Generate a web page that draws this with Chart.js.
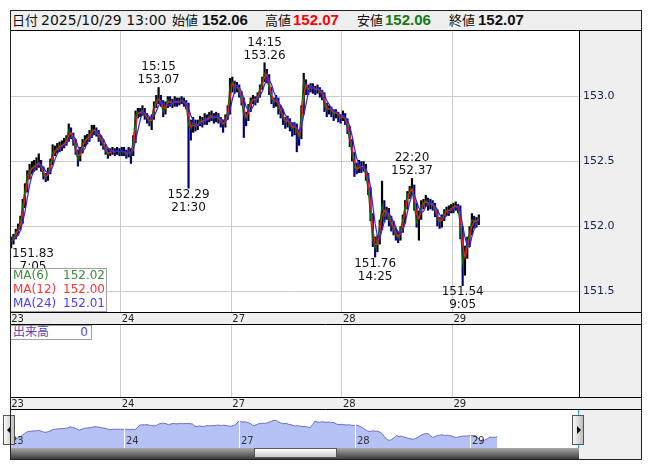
<!DOCTYPE html>
<html>
<head>
<meta charset="utf-8">
<script src="https://cdn.jsdelivr.net/npm/chart.js@4.4.0/dist/chart.umd.min.js"></script>
<style>
  body { margin: 0; width: 653px; height: 470px; background: #fff; position: relative; overflow: hidden;
         font-family: "DejaVu Sans", "Noto Sans CJK JP", sans-serif; }
  .abs { position: absolute; }
  #header { left: 10px; top: 10px; width: 631px; height: 20px; background: #efefef; }
  #header span { position: absolute; top: 0; line-height: 20px; white-space: nowrap; color: #111; }
  #header .jp { font-size: 13px; font-family: "Noto Sans CJK JP", sans-serif; }
  #header .dt { font-size: 14px; }
  #header .val { font-size: 15px; font-weight: bold; font-family: "Liberation Sans", sans-serif; }
  #frame { left: 10px; top: 10px; width: 632px; height: 450px; border: 1px solid #222; box-sizing: border-box; pointer-events: none; z-index: 5; }
  #maBox { left: 10px; top: 268px; width: 97px; height: 44px; background: rgba(255,255,255,0.92); border: 1px solid #a0a0a0; box-sizing: border-box; z-index: 3; font-size: 12px; }
  #maBox div { position: absolute; left: 2px; right: 1px; height: 15px; line-height: 15px; }
  #maBox .v { position: absolute; right: 0; top: 0; }
  #volBox { left: 10px; top: 325px; width: 82px; height: 15px; background: #fff; border: 1px solid #a0a0a0; box-sizing: border-box; z-index: 3; font-size: 12px; line-height: 13px; color: #5a44b0; }
  #volBox .n { position: absolute; right: 3px; top: 0; color: #5a44b0; font-family: "DejaVu Sans"; }
  #navRight { left: 579px; top: 410px; width: 62px; height: 49px; background: #efefef; }
  #track { left: 10px; top: 448px; width: 569px; height: 11px; background: linear-gradient(#a8a8a8, #3c3c3c); }
  #thumb { left: 254px; top: 448px; width: 83px; height: 10px; background: linear-gradient(#ffffff, #c8c8c8); border: 1px solid #555; box-sizing: border-box; z-index: 2; }
  .cyan { top: 410px; width: 1px; height: 38px; background: #27a6d8; z-index: 2; }
  .btn { top: 415px; width: 12px; height: 30px; background: linear-gradient(to right, #fbfbfb, #bdbdbd); border: 1px solid #555; box-sizing: border-box; z-index: 4; }
  .tri { position: absolute; top: 10px; width: 0; height: 0; border-top: 4px solid transparent; border-bottom: 4px solid transparent; }
</style>
</head>
<body>
<div id="header" class="abs"></div>
<canvas id="price" class="abs" style="left:10px;top:30px" width="631" height="295"></canvas>
<canvas id="volume" class="abs" style="left:10px;top:325px" width="631" height="85"></canvas>
<canvas id="nav" class="abs" style="left:10px;top:410px" width="569" height="38"></canvas>
<div id="navRight" class="abs"></div>
<div class="abs cyan" style="left:10px"></div>
<div class="abs cyan" style="left:578px"></div>
<div id="track" class="abs"></div>
<div id="thumb" class="abs"></div>
<div class="abs btn" style="left:3px"><div class="tri" style="left:3px;border-right:4px solid #000"></div></div>
<div class="abs btn" style="left:572px"><div class="tri" style="left:4px;border-left:4px solid #000"></div></div>
<div id="maBox" class="abs"></div>
<div id="volBox" class="abs"><span style="margin-left:2px">出来高</span><span class="n">0</span></div>
<div id="frame" class="abs"></div>

<script>
// 30-minute bars, trading day starts at 7:00
const dayNames = ['23', '24', '27', '28', '29'];
const barsPerDay = 48;
const totalSlots = 247; // time axis runs past the last bar (empty space on the right)

const closes = [
  // 23
  151.88, 151.91, 151.95, 151.98, 152.03, 152.16, 152.28, 152.39, 152.43, 152.45,
  152.46, 152.48, 152.49, 152.45, 152.39, 152.37, 152.42, 152.48, 152.57, 152.58,
  152.60, 152.62, 152.62, 152.64, 152.66, 152.74, 152.70, 152.66, 152.58, 152.51,
  152.58, 152.64, 152.66, 152.68, 152.70, 152.74, 152.74, 152.72, 152.68, 152.66,
  152.62, 152.58, 152.55, 152.58, 152.58, 152.57, 152.58, 152.57,
  // 24
  152.58, 152.57, 152.55, 152.58, 152.55, 152.66, 152.85, 152.88, 152.87, 152.89,
  152.85, 152.83, 152.80, 152.83, 152.93, 152.97, 152.98, 152.95, 152.88, 152.93,
  152.97, 152.95, 152.94, 152.97, 152.95, 152.96, 152.97, 152.95, 152.93, 152.78,
  152.75, 152.80, 152.77, 152.78, 152.82, 152.80, 152.83, 152.82, 152.85, 152.85,
  152.83, 152.85, 152.83, 152.80, 152.78, 152.83, 152.88, 153.08,
  // 27
  153.11, 153.06, 153.08, 153.03, 152.97, 152.85, 152.83, 152.91, 152.97, 152.98,
  152.97, 153.00, 153.06, 153.12, 153.18, 153.16, 153.05, 152.98, 152.95, 152.98,
  152.91, 152.88, 152.83, 152.80, 152.82, 152.78, 152.75, 152.78, 152.72, 152.68,
  152.89, 153.12, 153.06, 153.05, 153.08, 153.06, 153.05, 153.06, 153.03, 153.02,
  152.93, 152.89, 152.91, 152.89, 152.86, 152.88, 152.85, 152.83,
  // 28
  152.85, 152.82, 152.75, 152.66, 152.55, 152.45, 152.43, 152.47, 152.45, 152.46,
  152.39, 152.28, 152.08, 151.89, 151.83, 151.89, 152.01, 152.16, 152.08, 152.12,
  152.05, 152.01, 151.97, 151.93, 151.91, 151.97, 152.05, 152.16, 152.24, 152.28,
  152.29, 152.16, 152.03, 152.08, 152.16, 152.18, 152.20, 152.16, 152.18, 152.16,
  152.12, 152.05, 152.03, 152.06, 152.11, 152.12, 152.12, 152.14,
  // 29
  152.15, 152.16, 152.14, 152.00, 151.72, 151.80, 151.88, 151.95, 152.05, 152.03,
  152.04, 152.07
];

const lows = [
  151.83, 151.86, 151.90, 151.93, 151.97, 152.02, 152.14, 152.26, 152.36, 152.40,
  152.42, 152.43, 152.45, 152.42, 152.36, 152.34, 152.35, 152.40, 152.47, 152.54,
  152.56, 152.57, 152.58, 152.60, 152.62, 152.65, 152.67, 152.62, 152.55, 152.46,
  152.50, 152.56, 152.61, 152.63, 152.65, 152.68, 152.70, 152.69, 152.65, 152.62,
  152.59, 152.55, 152.52, 152.54, 152.55, 152.54, 152.55, 152.54,

  152.54, 152.54, 152.52, 152.53, 152.48, 152.54, 152.64, 152.83, 152.84, 152.85,
  152.82, 152.79, 152.77, 152.74, 152.82, 152.91, 152.94, 152.92, 152.84, 152.86,
  152.91, 152.92, 152.91, 152.92, 152.92, 152.93, 152.94, 152.92, 152.90, 152.29,
  152.66, 152.72, 152.73, 152.74, 152.77, 152.76, 152.78, 152.78, 152.80, 152.81,
  152.79, 152.80, 152.79, 152.76, 152.72, 152.76, 152.82, 152.86,

  153.03, 153.02, 153.03, 152.99, 152.93, 152.68, 152.77, 152.81, 152.88, 152.94,
  152.93, 152.95, 152.99, 153.05, 153.11, 153.10, 153.01, 152.94, 152.91, 152.92,
  152.86, 152.83, 152.78, 152.75, 152.76, 152.73, 152.69, 152.70, 152.57, 152.62,
  152.67, 152.86, 153.01, 153.01, 153.03, 153.02, 153.01, 153.02, 152.99, 152.97,
  152.88, 152.84, 152.86, 152.84, 152.81, 152.83, 152.80, 152.79,

  152.81, 152.78, 152.71, 152.61, 152.50, 152.38, 152.40, 152.41, 152.41, 152.42,
  152.35, 152.24, 152.04, 151.84, 151.76, 151.80, 151.86, 151.97, 152.03, 152.05,
  152.00, 151.96, 151.93, 151.89, 151.87, 151.89, 151.95, 152.02, 152.13, 152.21,
  152.24, 152.12, 151.99, 151.89, 152.05, 152.13, 152.15, 152.12, 152.13, 152.12,
  152.07, 152.00, 151.98, 151.99, 152.04, 152.08, 152.08, 152.10,

  152.10, 152.12, 152.10, 151.90, 151.54, 151.62, 151.75, 151.84, 151.93, 151.98,
  151.99, 152.01
];

const highs = [
  151.92, 151.94, 151.98, 152.02, 152.08, 152.21, 152.33, 152.43, 152.48, 152.50,
  152.51, 152.53, 152.56, 152.51, 152.46, 152.41, 152.45, 152.52, 152.63, 152.62,
  152.64, 152.65, 152.66, 152.68, 152.70, 152.79, 152.76, 152.72, 152.67, 152.59,
  152.61, 152.67, 152.70, 152.71, 152.74, 152.78, 152.78, 152.76, 152.74, 152.70,
  152.67, 152.63, 152.60, 152.60, 152.61, 152.60, 152.61, 152.60,

  152.61, 152.61, 152.59, 152.61, 152.60, 152.70, 152.89, 152.91, 152.91, 152.93,
  152.91, 152.87, 152.84, 152.86, 152.96, 153.01, 153.07, 153.01, 152.97, 152.96,
  153.00, 153.00, 152.98, 153.00, 152.99, 152.99, 153.00, 152.99, 152.97, 152.95,
  152.82, 152.84, 152.82, 152.82, 152.85, 152.84, 152.87, 152.86, 152.88, 152.89,
  152.87, 152.88, 152.87, 152.84, 152.82, 152.86, 152.93, 153.14,

  153.15, 153.12, 153.11, 153.09, 153.04, 152.99, 152.88, 152.94, 152.99, 153.01,
  153.00, 153.03, 153.09, 153.15, 153.26, 153.21, 153.17, 153.07, 152.99, 153.01,
  152.99, 152.93, 152.90, 152.84, 152.85, 152.83, 152.80, 152.80, 152.79, 152.74,
  152.93, 153.18, 153.13, 153.09, 153.10, 153.10, 153.08, 153.09, 153.07, 153.05,
  153.03, 152.95, 152.93, 152.92, 152.90, 152.90, 152.88, 152.86,

  152.89, 152.87, 152.83, 152.77, 152.67, 152.57, 152.49, 152.51, 152.50, 152.50,
  152.48, 152.41, 152.30, 152.10, 151.92, 151.93, 152.05, 152.35, 152.20, 152.15,
  152.14, 152.08, 152.04, 151.99, 151.96, 152.00, 152.09, 152.20, 152.27, 152.31,
  152.37, 152.32, 152.18, 152.12, 152.20, 152.21, 152.24, 152.22, 152.21, 152.20,
  152.18, 152.13, 152.07, 152.09, 152.13, 152.15, 152.16, 152.17,

  152.18, 152.19, 152.17, 152.16, 152.00, 151.85, 151.92, 152.00, 152.10, 152.08,
  152.07, 152.09
];

// day highs / lows marked on the chart
const extremes = [
  { idx: 0,   price: 151.83, time: '7:05',  side: 'low' },
  { idx: 64,  price: 153.07, time: '15:15', side: 'high' },
  { idx: 77,  price: 152.29, time: '21:30', side: 'low' },
  { idx: 110, price: 153.26, time: '14:15', side: 'high' },
  { idx: 158, price: 151.76, time: '14:25', side: 'low' },
  { idx: 174, price: 152.37, time: '22:20', side: 'high' },
  { idx: 196, price: 151.54, time: '9:05',  side: 'low' }
];

const yTicks = [151.5, 152.0, 152.5, 153.0];

// moving averages: periods are in 5-minute bars, shown as in the legend
const maNames = ['MA(6)', 'MA(12)', 'MA(24)'];
const maPeriods = [6, 12, 24];
const maLast = ['152.02', '152.00', '152.01'];
const maColors = ['#006a00', '#ff1a1a', '#2626ff'];
const maTextColors = ['#3d8c3d', '#ff3333', '#4a3cff'];

const headerLabels = ['日付', '始値', '高値', '安値', '終値'];
const headerDate = '2025/10/29 13:00';
const headerValues = ['152.06', '152.07', '152.06', '152.07'];
const headerColors = ['#111', '#ff0000', '#137a13', '#111'];

// ---- header ----
const header = document.getElementById('header');
const hdrPos = [[2, 31], [162, 192], [255, 283], [347, 375], [439, 468]];
headerLabels.forEach((lab, i) => {
  const s = document.createElement('span');
  s.className = 'jp';
  s.textContent = lab;
  s.style.left = hdrPos[i][0] + 'px';
  header.appendChild(s);
  const v = document.createElement('span');
  if (i === 0) {
    v.className = 'dt';
    v.textContent = headerDate;
  } else {
    v.className = 'val';
    v.textContent = headerValues[i - 1];
    v.style.color = headerColors[i - 1];
  }
  v.style.left = hdrPos[i][1] + 'px';
  header.appendChild(v);
});

// ---- MA legend ----
const maBox = document.getElementById('maBox');
maNames.forEach((n, i) => {
  const row = document.createElement('div');
  row.style.top = (i * 14 - 1) + 'px';
  row.style.color = maTextColors[i];
  row.innerHTML = n + '<span class="v">' + maLast[i] + '</span>';
  maBox.appendChild(row);
});

// ---- derived series ----
const slotLabels = [];
for (let i = 0; i < totalSlots; i++) {
  const d = Math.floor(i / barsPerDay);
  const m = 7 * 60 + (i % barsPerDay) * 30;
  slotLabels.push((dayNames[d] || '30') + ' ' + (Math.floor(m / 60) % 24) + ':' + String(m % 60).padStart(2, '0'));
}

function movingAverage(src, n) {
  return src.map((_, i) => {
    const part = src.slice(Math.max(0, i - n + 1), i + 1);
    return part.reduce((a, b) => a + b, 0) / part.length;
  });
}

const barColors = closes.map((c, i) => (i === 0 || c >= closes[i - 1]) ? '#000000' : '#00007c');
const ranges = lows.map((l, i) => [l, highs[i]]);

const FONT = 'DejaVu Sans';

// gray panels outside the plot, white plot, black separators
const panelBg = {
  id: 'panelBg',
  beforeDraw(chart) {
    const { ctx, chartArea: a, width, height } = chart;
    ctx.save();
    ctx.fillStyle = '#efefef';
    ctx.fillRect(0, 0, width, height);
    ctx.fillStyle = '#ffffff';
    ctx.fillRect(a.left, a.top, a.right - a.left, a.bottom - a.top);
    ctx.restore();
  },
  afterDraw(chart) {
    const { ctx, chartArea: a, width, height } = chart;
    ctx.save();
    ctx.strokeStyle = '#000';
    ctx.lineWidth = 1;
    ctx.beginPath();
    ctx.moveTo(0, 0.5); ctx.lineTo(width, 0.5);
    ctx.moveTo(0, a.bottom + 0.5); ctx.lineTo(width, a.bottom + 0.5);
    ctx.moveTo(0, height - 0.5); ctx.lineTo(width, height - 0.5);
    ctx.stroke();
    ctx.restore();
  }
};

const extremeLabels = {
  id: 'extremeLabels',
  afterDatasetsDraw(chart) {
    const { ctx, chartArea, scales: { x, y } } = chart;
    ctx.save();
    ctx.font = '12px "' + FONT + '"';
    ctx.fillStyle = '#111';
    ctx.textAlign = 'center';
    ctx.textBaseline = 'middle';
    extremes.forEach(e => {
      const px = x.getPixelForValue(e.idx);
      const py = y.getPixelForValue(e.price);
      const lines = e.side === 'high' ? [e.time, e.price.toFixed(2)] : [e.price.toFixed(2), e.time];
      const w = Math.max(...lines.map(t => ctx.measureText(t).width));
      const cx = Math.max(px, chartArea.left + w / 2 + 2);
      const y0 = e.side === 'high' ? py - 20 : py + 6;
      lines.forEach((t, k) => ctx.fillText(t, cx, y0 + k * 13));
    });
    ctx.restore();
  }
};

const lastDaySlot = dayNames.length * barsPerDay;

function timeAxis() {
  return {
    offset: true,
    grid: {
      offset: true,
      drawTicks: false,
      color: c => (c.index % barsPerDay === 0 && c.index < lastDaySlot ? '#cccccc' : 'rgba(0,0,0,0)')
    },
    border: { display: true, color: '#000' },
    ticks: {
      autoSkip: false, maxRotation: 0, minRotation: 0, align: 'start', padding: 1,
      color: '#222', font: { family: FONT, size: 10 },
      callback: (v, i) => (i % barsPerDay === 0 ? (dayNames[i / barsPerDay] || '') : '')
    },
    afterFit: s => { s.height = 13; s.paddingLeft = 0; s.paddingRight = 0; }
  };
}

function sideAxis(extra) {
  return Object.assign({
    position: 'right',
    border: { display: true, color: '#000' },
    afterFit: s => { s.width = 62; s.paddingTop = 0; s.paddingBottom = 0; }
  }, extra);
}

// ---- price panel ----
new Chart(document.getElementById('price'), {
  type: 'bar',
  data: {
    labels: slotLabels,
    datasets: [
      { type: 'bar', data: ranges, backgroundColor: barColors, barPercentage: 0.95, categoryPercentage: 1, order: 4 },
      ...maPeriods.map((p, k) => ({
        type: 'line',
        data: movingAverage(closes, p * 5 / 30),
        borderColor: maColors[k],
        borderWidth: 1.2,
        pointRadius: 0,
        tension: 0,
        order: 3 - k
      }))
    ]
  },
  options: {
    responsive: false,
    animation: false,
    layout: { padding: 0, autoPadding: false },
    plugins: { legend: { display: false }, tooltip: { enabled: false } },
    scales: {
      x: timeAxis(),
      y: sideAxis({
        min: 151.34,
        max: 153.51,
        afterBuildTicks: s => { s.ticks = yTicks.map(v => ({ value: v })); },
        grid: { color: '#cccccc', tickLength: 3, tickColor: '#cccccc' },
        ticks: { padding: 1, color: '#13224d', font: { family: FONT, size: 11 }, callback: v => v.toFixed(1) }
      })
    }
  },
  plugins: [panelBg, extremeLabels]
});

// ---- volume panel (empty: 出来高 0) ----
new Chart(document.getElementById('volume'), {
  type: 'bar',
  data: { labels: slotLabels, datasets: [] },
  options: {
    responsive: false,
    animation: false,
    layout: { padding: 0, autoPadding: false },
    plugins: { legend: { display: false }, tooltip: { enabled: false } },
    scales: {
      x: timeAxis(),
      y: sideAxis({ min: 0, max: 1, grid: { display: false }, ticks: { display: false } })
    }
  },
  plugins: [{
    id: 'volBg',
    beforeDraw: panelBg.beforeDraw,
    afterDraw(chart) {
      const { ctx, chartArea: a, width, height } = chart;
      ctx.save();
      ctx.strokeStyle = '#000';
      ctx.beginPath();
      ctx.moveTo(0, a.bottom + 0.5); ctx.lineTo(width, a.bottom + 0.5);
      ctx.moveTo(0, height - 0.5); ctx.lineTo(width, height - 0.5);
      ctx.stroke();
      ctx.restore();
    }
  }]
});

// ---- navigator ----
const navDays = {
  id: 'navDays',
  afterDatasetsDraw(chart) {
    const { ctx, chartArea: a, scales: { x } } = chart;
    ctx.save();
    ctx.font = '10px "' + FONT + '"';
    ctx.fillStyle = '#333';
    ctx.textBaseline = 'middle';
    dayNames.forEach((d, k) => {
      const px = Math.round(x.getPixelForValue(k * barsPerDay));
      if (k > 0) {
        ctx.strokeStyle = '#ffffff';
        ctx.beginPath();
        ctx.moveTo(px - 0.5, a.top);
        ctx.lineTo(px - 0.5, a.bottom);
        ctx.stroke();
      }
      ctx.fillText(d, px + 1, 31);
    });
    ctx.restore();
  }
};

new Chart(document.getElementById('nav'), {
  type: 'line',
  data: {
    datasets: [{
      data: closes.map((c, i) => ({ x: i, y: c })),
      fill: 'start',
      backgroundColor: '#b6c2f5',
      borderColor: '#6a6fc6',
      borderWidth: 1,
      pointRadius: 0,
      tension: 0
    }]
  },
  options: {
    responsive: false,
    animation: false,
    layout: { padding: 0, autoPadding: false },
    plugins: { legend: { display: false }, tooltip: { enabled: false } },
    scales: {
      x: { type: 'linear', display: false, min: 0, max: 237 },
      y: { display: false, min: 151.32, max: 153.87 }
    }
  },
  plugins: [navDays]
});
</script>
</body>
</html>
